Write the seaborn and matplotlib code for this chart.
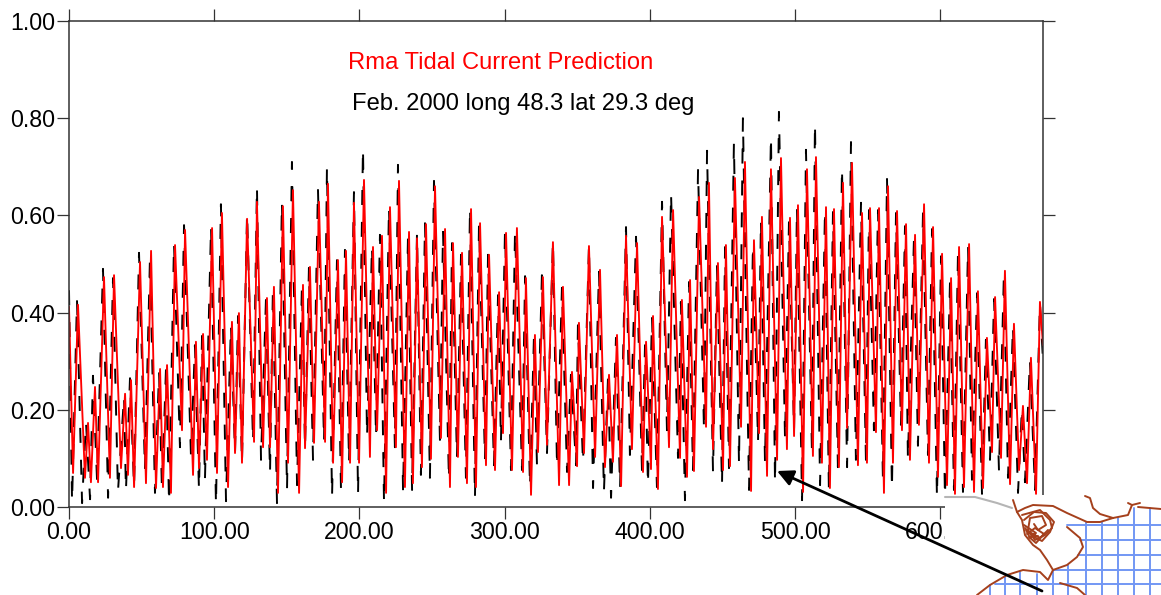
import pandas as pd
import matplotlib
matplotlib.use("Agg")
import matplotlib.pyplot as plt
import seaborn as sns

# === Data (only turning points of each curve) ===
model_hours = [
    0.0, 2.8, 6.2, 11.0, 13.1, 15.1, 17.9, 20.0, 24.1, 28.2, 31.0, 35.8, 38.6, 40.6, 42.7, 44.8,
    48.9, 53.0, 56.5, 59.9, 62.7, 64.7, 67.5, 70.2, 73.0, 77.8, 79.9, 85.4, 87.4, 89.5, 92.3, 95.0,
    98.5, 101.9, 105.3, 109.5, 112.2, 114.3, 117.0, 119.1, 122.6, 127.4, 129.4, 133.6, 136.3, 138.4,
    141.1, 143.9, 147.3, 150.8, 154.2, 158.4, 161.1, 162.5, 165.9, 168.7, 172.1, 176.3, 178.3, 181.8,
    185.2, 188.0, 190.7, 193.5, 196.2, 199.7, 203.1, 207.2, 209.3, 212.1, 215.5, 218.3, 221.0, 225.1,
    227.2, 231.3, 234.1, 236.8, 239.6, 243.0, 245.8, 249.2, 252.0, 256.1, 258.9, 262.3, 264.4, 267.8,
    270.6, 274.0, 276.8, 280.2, 283.0, 287.1, 289.2, 293.3, 296.1, 298.8, 300.9, 305.0, 308.4, 312.6,
    314.6, 318.1, 320.8, 322.9, 326.3, 329.1, 333.2, 337.4, 340.1, 344.3, 346.3, 349.8, 351.1, 354.6,
    358.0, 362.2, 365.6, 369.0, 371.8, 374.5, 377.3, 380.1, 383.5, 387.6, 391.1, 395.2, 397.3, 400.7,
    402.1, 405.5, 408.3, 413.1, 415.9, 420.7, 422.0, 425.5, 427.6, 430.3, 433.8, 438.6, 440.6, 443.4,
    446.8, 450.3, 452.3, 455.1, 458.5, 462.7, 465.4, 469.6, 471.6, 475.1, 477.1, 480.6, 483.3, 487.5,
    490.2, 494.3, 496.4, 499.2, 501.9, 505.4, 508.1, 512.2, 514.3, 518.4, 521.2, 523.9, 526.7, 530.1,
    532.9, 535.7, 539.1, 543.2, 546.0, 549.4, 551.5, 555.6, 557.7, 561.1, 563.9, 567.3, 570.1, 573.5,
    576.3, 579.0, 582.5, 585.2, 588.7, 592.1, 594.9, 598.3, 601.1, 604.5, 607.3, 610.0, 612.8, 616.2,
    619.7, 623.1, 625.8, 629.3, 632.0, 635.5, 637.6, 641.7, 644.4, 647.9, 650.6, 654.1, 656.8, 659.6,
    662.3, 665.8, 668.5, 670.6,
]
model_speed = [
    0.412, 0.070, 0.416, 0.060, 0.173, 0.051, 0.247, 0.051, 0.473, 0.060, 0.477, 0.080, 0.233, 0.066, 0.261, 0.041,
    0.504, 0.049, 0.527, 0.039, 0.284, 0.041, 0.292, 0.029, 0.539, 0.158, 0.570, 0.066, 0.340, 0.080, 0.356, 0.097,
    0.574, 0.070, 0.605, 0.041, 0.381, 0.111, 0.399, 0.091, 0.593, 0.134, 0.628, 0.123, 0.430, 0.123,
    0.453, 0.029, 0.619, 0.091, 0.652, 0.029, 0.457, 0.121, 0.494, 0.132, 0.628, 0.134, 0.665, 0.091,
    0.508, 0.051, 0.527, 0.091, 0.626, 0.091, 0.673, 0.103, 0.535, 0.158, 0.558, 0.029, 0.617, 0.123,
    0.671, 0.041, 0.566, 0.049, 0.553, 0.082, 0.582, 0.099, 0.660, 0.142, 0.572, 0.041, 0.543, 0.103,
    0.523, 0.049, 0.613, 0.041, 0.584, 0.086, 0.519, 0.076, 0.442, 0.152, 0.564, 0.076, 0.574, 0.072,
    0.471, 0.025, 0.354, 0.113, 0.473, 0.128, 0.545, 0.045, 0.453, 0.045, 0.278, 0.084, 0.379, 0.111,
    0.537, 0.103, 0.488, 0.082, 0.272, 0.093, 0.354, 0.043, 0.558, 0.119, 0.543, 0.072, 0.340, 0.078,
    0.393, 0.037, 0.597, 0.123, 0.611, 0.101, 0.426, 0.062, 0.467, 0.074, 0.638, 0.165, 0.667, 0.119,
    0.502, 0.076, 0.539, 0.084, 0.677, 0.165, 0.710, 0.033, 0.549, 0.152, 0.597, 0.064, 0.695, 0.097,
    0.718, 0.119, 0.595, 0.146, 0.621, 0.031, 0.695, 0.105, 0.720, 0.091, 0.617, 0.039, 0.613, 0.082,
    0.667, 0.163, 0.708, 0.086, 0.605, 0.091, 0.615, 0.154, 0.615, 0.029, 0.660, 0.091, 0.609, 0.158,
    0.582, 0.097, 0.560, 0.169, 0.623, 0.091, 0.576, 0.062, 0.521, 0.045, 0.471, 0.027, 0.535, 0.041,
    0.541, 0.031, 0.444, 0.039, 0.348, 0.113, 0.432, 0.101, 0.486, 0.047, 0.377, 0.076, 0.208, 0.049,
    0.307, 0.027, 0.422, 0.333,
]

obs_hours = [
    0.0, 2.1, 5.5, 9.0, 11.7, 14.5, 16.5, 19.3, 23.4, 26.9, 30.3, 33.7, 37.9, 39.2, 42.0, 44.8,
    48.2, 52.3, 55.8, 59.2, 62.0, 64.0, 66.8, 68.9, 72.3, 76.4, 79.2, 84.0, 86.7, 89.5, 91.6, 93.6,
    97.8, 101.2, 104.6, 108.1, 111.5, 114.3, 116.4, 119.1, 122.6, 126.7, 129.4, 132.2, 135.6, 138.4,
    140.4, 143.2, 146.6, 150.1, 153.5, 157.0, 160.4, 162.5, 165.2, 168.0, 171.4, 175.6, 177.6, 181.1,
    184.5, 187.3, 190.0, 192.8, 196.2, 199.0, 202.4, 205.2, 208.6, 211.4, 214.1, 216.9, 220.3, 224.4,
    226.5, 230.0, 233.4, 236.2, 239.6, 242.3, 245.1, 248.5, 251.3, 255.4, 257.5, 261.6, 263.7, 267.1,
    269.9, 273.3, 276.1, 279.5, 282.3, 286.4, 288.5, 292.6, 295.4, 297.4, 300.2, 304.3, 307.1, 311.9,
    314.0, 317.4, 320.1, 322.2, 325.6, 329.1, 333.2, 336.0, 339.4, 342.9, 345.6, 349.1, 350.4, 353.9,
    358.0, 360.8, 364.9, 368.3, 371.1, 373.2, 376.6, 379.4, 383.5, 386.2, 390.4, 394.5, 396.6, 398.6,
    401.4, 404.8, 408.3, 411.7, 414.5, 419.3, 421.3, 424.1, 426.9, 429.6, 433.1, 437.2, 439.3, 443.4,
    446.1, 449.6, 451.7, 454.4, 457.8, 461.3, 464.0, 468.2, 470.9, 474.4, 476.4, 479.2, 483.3, 486.1,
    488.8, 493.0, 495.7, 499.2, 501.2, 504.7, 507.4, 511.5, 513.6, 517.1, 520.5, 523.2, 526.0, 529.4,
    532.2, 535.7, 538.4, 541.8, 545.3, 548.7, 550.8, 554.2, 557.0, 560.4, 563.2, 566.6, 569.4, 572.8,
    575.6, 577.6, 581.8, 584.5, 588.0, 591.4, 594.2, 597.6, 600.4, 603.1, 606.6, 609.3, 612.1, 615.5,
    619.0, 621.7, 625.2, 628.6, 631.3, 634.1, 636.9, 640.3, 643.7, 646.5, 649.9, 653.4, 656.1, 658.2,
    661.6, 665.1, 668.5, 670.6,
]
obs_speed = [
    0.446, 0.010, 0.426, 0.008, 0.175, 0.016, 0.270, 0.056, 0.490, 0.019, 0.471, 0.031, 0.228, 0.033, 0.265, 0.041,
    0.523, 0.076, 0.519, 0.029, 0.278, 0.035, 0.286, 0.008, 0.543, 0.123, 0.580, 0.103, 0.333, 0.035, 0.352, 0.056,
    0.578, 0.004, 0.623, 0.012, 0.374, 0.111, 0.393, 0.091, 0.605, 0.134, 0.660, 0.097, 0.426, 0.070,
    0.451, 0.008, 0.628, 0.035, 0.710, 0.045, 0.457, 0.121, 0.492, 0.097, 0.656, 0.134, 0.700, 0.021,
    0.508, 0.029, 0.529, 0.091, 0.648, 0.025, 0.739, 0.144, 0.537, 0.144, 0.560, 0.008, 0.617, 0.123,
    0.704, 0.031, 0.556, 0.035, 0.564, 0.066, 0.584, 0.060, 0.671, 0.138, 0.568, 0.056, 0.543, 0.101,
    0.519, 0.060, 0.617, 0.019, 0.584, 0.097, 0.519, 0.086, 0.436, 0.134, 0.570, 0.076, 0.568, 0.076,
    0.475, 0.041, 0.348, 0.086, 0.477, 0.111, 0.547, 0.082, 0.451, 0.072, 0.272, 0.086, 0.374, 0.091,
    0.539, 0.039, 0.484, 0.031, 0.265, 0.019, 0.348, 0.039, 0.576, 0.107, 0.556, 0.076, 0.333, 0.045,
    0.389, 0.041, 0.628, 0.158, 0.646, 0.101, 0.422, 0.014, 0.463, 0.076, 0.695, 0.158, 0.733, 0.072,
    0.498, 0.045, 0.535, 0.080, 0.749, 0.088, 0.800, 0.035, 0.539, 0.134, 0.591, 0.091, 0.763, 0.049,
    0.813, 0.138, 0.586, 0.158, 0.617, 0.014, 0.735, 0.117, 0.790, 0.045, 0.611, 0.031, 0.607, 0.082,
    0.698, 0.082, 0.751, 0.097, 0.626, 0.097, 0.611, 0.158, 0.611, 0.056, 0.675, 0.037, 0.605, 0.169,
    0.578, 0.097, 0.556, 0.126, 0.607, 0.107, 0.572, 0.019, 0.516, 0.021, 0.467, 0.035, 0.529, 0.031,
    0.537, 0.056, 0.440, 0.027, 0.344, 0.097, 0.428, 0.074, 0.481, 0.060, 0.372, 0.029, 0.204, 0.051,
    0.302, 0.035, 0.420, 0.302,
]

x_ticks = [0, 100, 200, 300, 400, 500, 600]
y_ticks = [0.0, 0.2, 0.4, 0.6, 0.8, 1.0]
title_text = "Rma Tidal Current Prediction"
sub_text = "Feb. 2000 long 48.3 lat 29.3 deg"

# === Map inset outlines (figure pixels) ===
grid_rows = [(525, 1067), (540, 1080), (555, 1078), (570, 1053), (584, 995)]
grid_cols = [(1150, 508), (1134, 508), (1118, 518), (1102, 522), (1086, 522), (1068, 565),
             (1053, 570), (1037, 574), (1020, 572), (1005, 577), (990, 585)]
coast_lines = [
    [(1013, 500), (1017, 512), (1025, 508), (1033, 505), (1053, 506), (1067, 513), (1087, 522), (1100, 522), (1113, 518)],
    [(1113, 518), (1100, 514), (1093, 508), (1090, 498), (1085, 496)],
    [(1113, 518), (1128, 515), (1132, 505), (1128, 503)],
    [(1132, 505), (1140, 503)],
    [(1138, 507), (1161, 509)],
    [(1067, 527), (1080, 538), (1083, 547), (1077, 557), (1067, 565), (1053, 570), (1047, 560), (1040, 550),
     (1033, 545), (1025, 535), (1022, 520), (1017, 512)],
    [(1053, 570), (1048, 580), (1040, 572), (1023, 570), (1007, 575), (990, 585), (977, 595)],
    [(1060, 583), (1077, 588), (1085, 595)],
    [(1022, 515), (1040, 510), (1050, 520), (1052, 528), (1045, 535), (1035, 540), (1028, 530), (1030, 518),
     (1042, 516), (1046, 525), (1038, 530), (1034, 524)],
    [(1024, 525), (1036, 533), (1030, 538), (1026, 530), (1040, 538), (1048, 530)],
    [(1024, 520), (1034, 512), (1046, 513), (1054, 522), (1050, 532), (1042, 541), (1032, 536), (1025, 528)],
    [(1027, 534), (1035, 528), (1044, 534), (1036, 543), (1029, 537), (1038, 536)],
]
grey_line = [(945, 497), (975, 497), (997, 503), (1012, 508)]

sns.set_theme(style="white")
plt.rcParams["font.family"] = ["Liberation Sans", "DejaVu Sans"]

model_df = pd.DataFrame({"hours": model_hours, "speed": model_speed})
obs_df = pd.DataFrame({"hours": obs_hours, "speed": obs_speed})

fig = plt.figure(figsize=(11.61, 5.95), dpi=100)
ax = fig.add_axes([69 / 1161, 1 - 507 / 595, 974 / 1161, 486 / 595])

sns.lineplot(data=obs_df, x="hours", y="speed", ax=ax, color="black", lw=1.4, sort=False,
             estimator=None, errorbar=None, linestyle=(0, (7.7, 8.7)))
sns.lineplot(data=model_df, x="hours", y="speed", ax=ax, color="#ff0000", lw=1.35, sort=False,
             estimator=None, errorbar=None, solid_joinstyle="round")

ax.set_xlim(0, 670.6)
ax.set_ylim(0, 1)
ax.set_xlabel("")
ax.set_ylabel("")
ax.set_xticks(x_ticks)
ax.set_yticks(y_ticks)
ax.set_xticklabels([f"{v:.2f}" for v in x_ticks])
ax.set_yticklabels([f"{v:.2f}" for v in y_ticks])
ax.tick_params(axis="both", which="both", direction="out", length=8.6, width=0.9, color="#333333",
               labelsize=16.7, labelcolor="black", top=True, right=True, bottom=True, left=True, pad=1.5)
for spine in ax.spines.values():
    spine.set_visible(True)
    spine.set_linewidth(1.1)
    spine.set_color("#333333")

ax.text(192, 0.914, title_text, color="#ff0000", fontsize=17.1, va="center", ha="left")
ax.text(195, 0.829, sub_text, color="black", fontsize=17.1, va="center", ha="left")

# === Map overlay ===
over = fig.add_axes([0, 0, 1, 1])
over.set_xlim(0, 1161)
over.set_ylim(595, 0)
over.axis("off")
over.patch.set_alpha(0)
over.fill_between([945, 1161], 495, 595, color="white", lw=0, zorder=1)

for y, x0 in grid_rows:
    over.plot([x0, 1161], [y, y], color="#7297f4", lw=1.4, zorder=2)
for x, y0 in grid_cols:
    over.plot([x, x], [y0, 595], color="#7297f4", lw=1.4, zorder=2)
for line in coast_lines:
    over.plot([p[0] for p in line], [p[1] for p in line], color="#a5401c", lw=1.4, zorder=3)
over.plot([p[0] for p in grey_line], [p[1] for p in grey_line], color="#b5b5b5", lw=1.5, zorder=3)

over.annotate("", xy=(777, 471), xytext=(1042, 591), zorder=5,
              arrowprops=dict(arrowstyle="-|>", color="black", lw=2, mutation_scale=24, shrinkA=0, shrinkB=0))

fig.savefig("out.png", dpi=100)
plt.close(fig)
